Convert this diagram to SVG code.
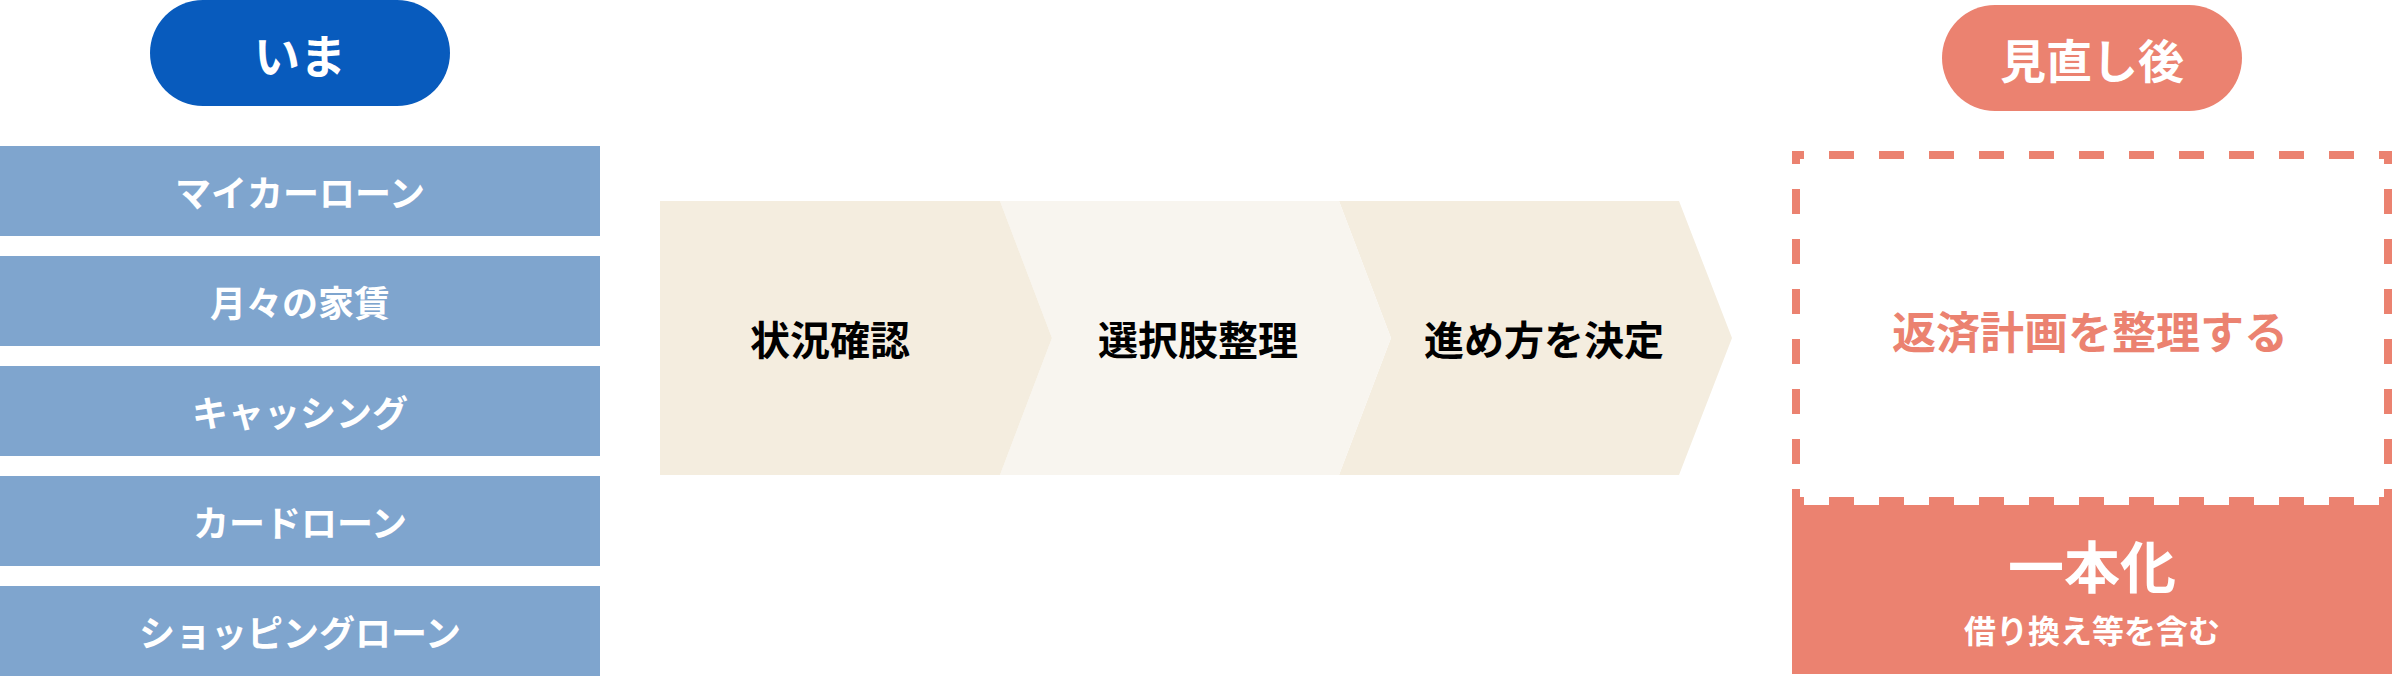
<svg xmlns="http://www.w3.org/2000/svg" width="2392" height="689" viewBox="0 0 2392 689">
  <style>
    text { font-family: "Noto Sans CJK JP", "Noto Sans", sans-serif; font-weight: 700; text-anchor: middle; dominant-baseline: central; }
    .w { fill: #ffffff; }
    .bar { fill: #7FA5CE; }
    .bar-t { font-size: 36px; }
    .chev-a { fill: #F4EDDF; }
    .chev-b { fill: #F8F5EF; }
    .chev-t { font-size: 40px; fill: #000000; }
    .coral { fill: #EB8270; }
    .dash { stroke: #EB8270; stroke-width: 8; stroke-dasharray: 25 25; fill: none; }
  </style>
  <rect width="2392" height="689" fill="#ffffff"/>

  <g id="label-now">
    <rect x="150" y="0" width="300" height="106" rx="53" fill="#085BBD"/>
    <text x="300" y="53" class="w" font-size="46">いま</text>
  </g>

  <g id="item-car-loan">
    <rect class="bar" x="0" y="146" width="600" height="90"/>
    <text class="w bar-t" x="300" y="191">マイカーローン</text>
  </g>
  <g id="item-rent">
    <rect class="bar" x="0" y="256" width="600" height="90"/>
    <text class="w bar-t" x="300" y="301">月々の家賃</text>
  </g>
  <g id="item-cashing">
    <rect class="bar" x="0" y="366" width="600" height="90"/>
    <text class="w bar-t" x="300" y="411">キャッシング</text>
  </g>
  <g id="item-card-loan">
    <rect class="bar" x="0" y="476" width="600" height="90"/>
    <text class="w bar-t" x="300" y="521">カードローン</text>
  </g>
  <g id="item-shopping-loan">
    <rect class="bar" x="0" y="586" width="600" height="90"/>
    <text class="w bar-t" x="300" y="631">ショッピングローン</text>
  </g>

  <g id="step-3">
    <polygon class="chev-a" points="1339,201 1679,201 1732,338 1679,475 1339,475 1391,338"/>
    <text class="chev-t" x="1544" y="338">進め方を決定</text>
  </g>
  <g id="step-2">
    <polygon class="chev-b" points="1000,201 1339,201 1391,338 1339,475 1000,475 1052,338"/>
    <text class="chev-t" x="1198" y="338">選択肢整理</text>
  </g>
  <g id="step-1">
    <polygon class="chev-a" points="660,201 1000,201 1052,338 1000,475 660,475"/>
    <text class="chev-t" x="830" y="338">状況確認</text>
  </g>

  <g id="label-after">
    <rect x="1942" y="5" width="300" height="106" rx="53" class="coral"/>
    <text x="2092" y="58" class="w" font-size="46">見直し後</text>
  </g>

  <g id="consolidation">
    <rect x="1792" y="505" width="600" height="169" class="coral"/>
    <text x="2092" y="563" class="w" font-size="56">一本化</text>
    <text x="2092" y="629" class="w" font-size="32">借り換え等を含む</text>
  </g>

  <g id="repayment-plan">
    <line class="dash" x1="1792" y1="155" x2="2392" y2="155" stroke-dashoffset="13"/>
    <line class="dash" x1="1792" y1="501" x2="2392" y2="501" stroke-dashoffset="13"/>
    <line class="dash" x1="1796" y1="151" x2="1796" y2="505" stroke-dashoffset="12"/>
    <line class="dash" x1="2388" y1="151" x2="2388" y2="505" stroke-dashoffset="12"/>
    <text x="2090" y="330" font-size="44" class="coral">返済計画を整理する</text>
  </g>

  <g id="connectors"/>
</svg>
